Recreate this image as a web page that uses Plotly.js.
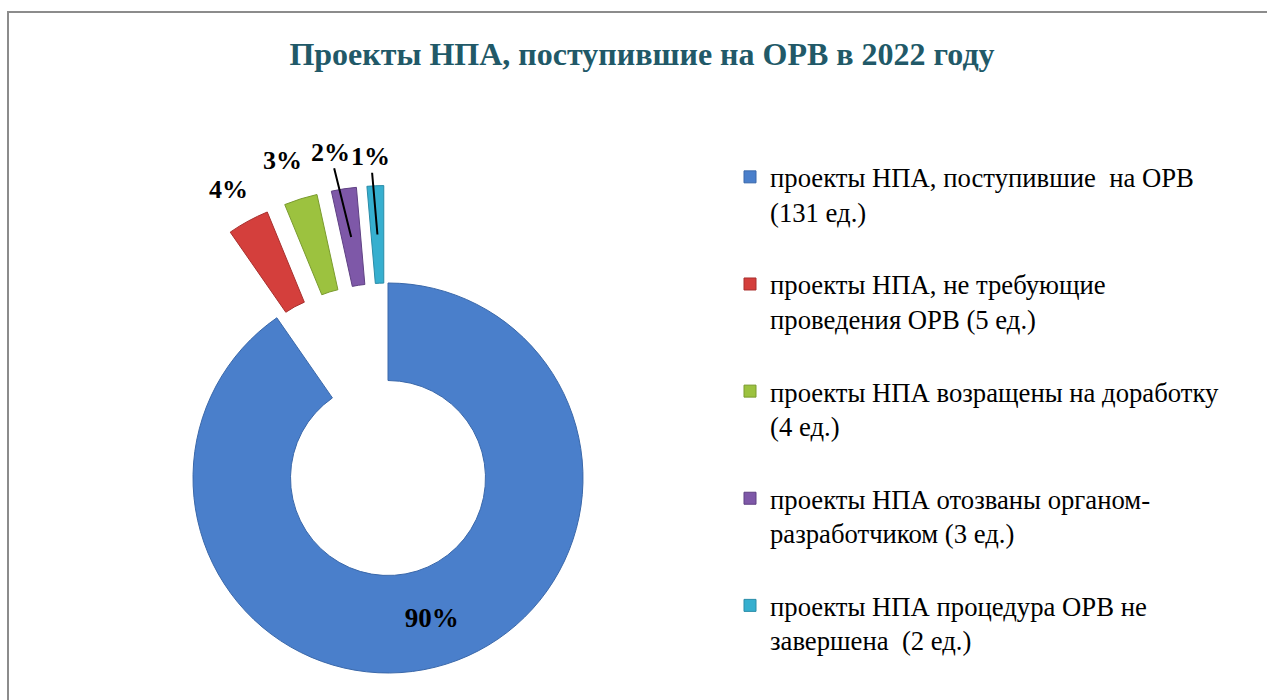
<!DOCTYPE html>
<html>
<head>
<meta charset="utf-8">
<script src="https://cdn.plot.ly/plotly-3.0.1.min.js"></script>
<style>
  html, body { margin: 0; padding: 0; width: 1267px; height: 700px; overflow: hidden; background: #fff; }
  #chart { position: absolute; left: 0; top: 0; width: 1267px; height: 800px; }
  #frame { position: absolute; left: 7px; top: 11px; width: 1300px; height: 800px; border: 2px solid #8c8c8c; pointer-events: none; }
</style>
</head>
<body>
<div id="chart"></div>
<div id="frame"></div>
<script>
const categories = [
  "проекты НПА, поступившие  на ОРВ<br>(131 ед.)<br>&nbsp;",
  "проекты НПА, не требующие<br>проведения ОРВ (5 ед.)<br>&nbsp;",
  "проекты НПА возращены на доработку<br>(4 ед.)<br>&nbsp;",
  "проекты НПА отозваны органом-<br>разработчиком (3 ед.)<br>&nbsp;",
  "проекты НПА процедура ОРВ не<br>завершена  (2 ед.)"
];
const counts = [131, 5, 4, 3, 2];
const percentLabels = ["90%", "4%", "3%", "2%", "1%"];
const sliceColors = ["#4A7FCB", "#D43F3C", "#9CC23F", "#7E58A8", "#36AFCF"];
const edgeColors = ["#3A68AA", "#A8302E", "#7A9B2E", "#5F4183", "#2A8CA8"];
const pulls = [0, 0.5, 0.5, 0.5, 0.5];
const leaderLine = [false, false, false, true, true];
// small pixel nudges of the outside labels (style only)
const labelNudge = [[0, 0], [-2, 1], [-7, -3], [-8, 0], [-3, 8]];

const SERIF = "Liberation Serif, Times New Roman, serif";
const W = 1267, H = 800;
const domain = { x: [95.5 / W, 680.5 / W], y: [(H - 770.5) / H, (H - 185.5) / H] };
const hole = 0.5;

const trace = {
  type: "pie",
  labels: categories,
  values: counts,
  text: percentLabels,
  textinfo: "text",
  hoverinfo: "label+value",
  sort: false,
  direction: "clockwise",
  rotation: 0,
  hole: hole,
  pull: pulls,
  textposition: ["inside", "none", "none", "none", "none"],
  insidetextorientation: "horizontal",
  insidetextfont: { family: SERIF, size: 27, color: "#000", weight: "bold" },
  marker: { colors: sliceColors, line: { width: 1, color: edgeColors } },
  domain: domain
};

// Outside labels of the pulled slices, placed from the pie geometry and the data
const total = counts.reduce((a, b) => a + b, 0);
const cxPx = (domain.x[0] + domain.x[1]) / 2 * W;
const cyPx = H * (1 - (domain.y[0] + domain.y[1]) / 2);
const maxPull = Math.max(...pulls);
const R = Math.min((domain.x[1] - domain.x[0]) * W, (domain.y[1] - domain.y[0]) * H) / 2 / (1 + maxPull);
const annotations = [];
let cum = 0;
counts.forEach((v, i) => {
  const mid = (cum + v / 2) / total * 2 * Math.PI;
  cum += v;
  if (i === 0) return;
  const dx = Math.sin(mid), dy = -Math.cos(mid);
  const off = R * pulls[i];
  const rLabel = R + off + 0.19 * R;
  const lx = cxPx + dx * rLabel + labelNudge[i][0];
  const ly = cyPx + dy * rLabel + labelNudge[i][1];
  const base = {
    text: "<b>" + percentLabels[i] + "</b>",
    font: { family: SERIF, size: 26, color: "#000" },
    xref: "paper", yref: "paper",
    xanchor: "center", yanchor: "middle"
  };
  if (leaderLine[i]) {
    const rMid = R * (1 + hole) / 2 + off;
    const px = cxPx + dx * rMid, py = cyPx + dy * rMid;
    annotations.push(Object.assign(base, {
      x: px / W, y: 1 - py / H,
      showarrow: true, arrowhead: 0, arrowwidth: 2, arrowcolor: "#000",
      axref: "pixel", ayref: "pixel",
      ax: lx - px, ay: ly - py, standoff: 0, startstandoff: 0
    }));
  } else {
    annotations.push(Object.assign(base, { x: lx / W, y: 1 - ly / H, showarrow: false }));
  }
});

const layout = {
  width: W,
  height: H,
  margin: { l: 0, r: 0, t: 0, b: 0 },
  paper_bgcolor: "#fff",
  font: { family: SERIF, color: "#000" },
  showlegend: true,
  title: {
    text: "<b>Проекты НПА, поступившие на ОРВ в 2022 году</b>",
    font: { family: SERIF, size: 32, color: "#215968" },
    x: 642 / W, xanchor: "center",
    y: 1 - 54 / H, yanchor: "middle",
    xref: "container", yref: "container"
  },
  legend: {
    x: 730 / W, xanchor: "left",
    y: 1 - 153 / H, yanchor: "top",
    valign: "top",
    font: { family: SERIF, size: 26.7, color: "#000" },
    bgcolor: "rgba(0,0,0,0)"
  },
  annotations: annotations
};

Plotly.newPlot("chart", [trace], layout, { displayModeBar: false, staticPlot: true });
</script>
</body>
</html>
